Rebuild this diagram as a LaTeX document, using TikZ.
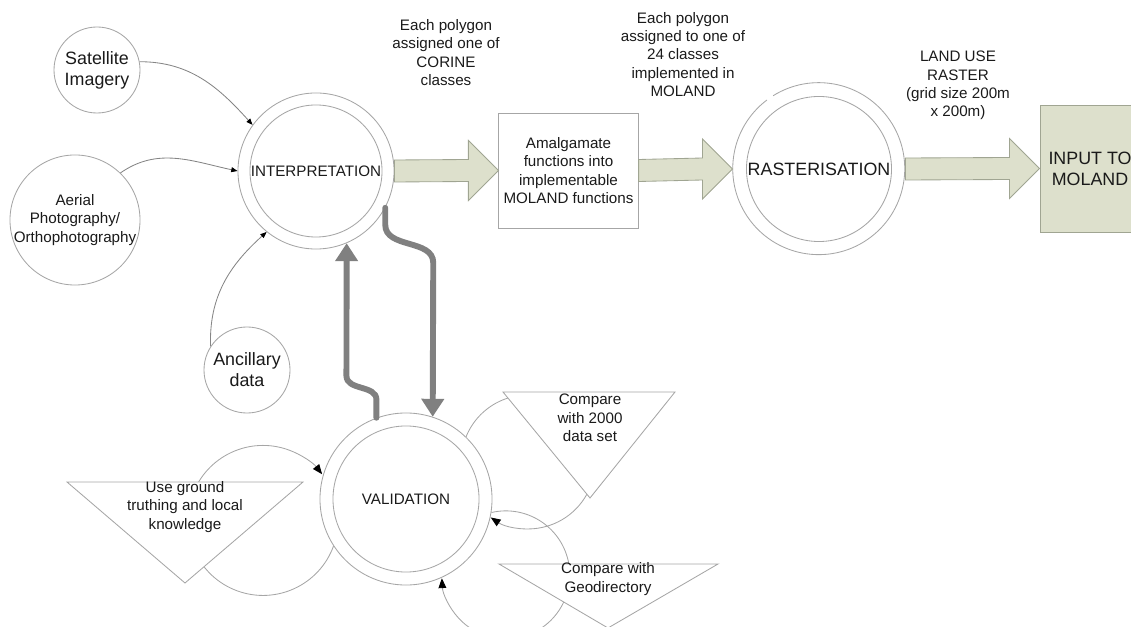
\documentclass[tikz,border=0pt]{standalone}
\usepackage{fontspec}
\setmainfont{Liberation Sans}
\usetikzlibrary{arrows.meta,calc,backgrounds}

\definecolor{ringgray}{HTML}{A6A6A6}
\definecolor{linegray}{HTML}{858585}
\definecolor{fbgray}{HTML}{808080}
\definecolor{landgreen}{HTML}{DDE0CC}
\definecolor{landedge}{HTML}{A0A592}
\definecolor{inkblack}{HTML}{1A1A1A}

% block arrow from the east side of #1 to the west side of #2
\newcommand{\bigarrow}[2]{%
  \draw[blockarrow] ($(#1.east)+(0,11)$) -- ($(#2.west)+(-30,11)$)
    -- ($(#2.west)+(-30,30)$) -- (#2.west) -- ($(#2.west)+(-30,-30)$)
    -- ($(#2.west)+(-30,-11)$) -- ($(#1.east)+(0,-11)$) -- cycle;}

\begin{document}
\begin{tikzpicture}[x=0.025cm, y=0.025cm,
  ring/.style={circle, draw=ringgray, line width=0.6pt, fill=white, inner sep=0pt},
  ringline/.style={draw=ringgray, line width=0.6pt},
  txt/.style={align=center, text=inkblack, font=\fontsize{10.8}{13}\selectfont},
  bigtxt/.style={align=center, text=inkblack, font=\fontsize{12.7}{14.9}\selectfont},
  tri/.style={draw=ringgray, fill=white, line width=0.6pt},
  feed/.style={draw=linegray, line width=0.6pt, -{Triangle[black, length=4.5pt, width=3.5pt]}},
  loopline/.style={draw=ringgray, line width=0.6pt, -{Triangle[black, length=7pt, width=5.5pt]}},
  pathway/.style={draw=fbgray, line width=4.2pt, line cap=round, -{Triangle[length=0.45cm, width=0.55cm]}},
  blockarrow/.style={draw=landedge, fill=landgreen, line width=0.6pt}]

  \useasboundingbox (0,0) rectangle (1131,626);

  % sources
  \node[ring, minimum size=2.15cm] (sat) at (97,556) {};
  \node[bigtxt] (satlabel) at (sat) {Satellite\\Imagery};
  \node[ring, minimum size=3.25cm] (aerial) at (75,406) {};
  \node[txt] (aeriallabel) at (aerial) {Aerial\\Photography/\\Orthophotography};
  \node[ring, minimum size=2.15cm] (ancil) at (247,256) {};
  \node[bigtxt] (ancillabel) at (ancil) {Ancillary\\data};

  % interpretation
  \node[ring, minimum size=3.9cm] (interpO) at (316,455) {};
  \node[ring, minimum size=3.3cm, txt] (interp) at (interpO) {\makebox[0pt]{INTERPRETATION}};

  \draw[feed] (sat.11) to[out=0, in=132] (interpO.144);
  \draw[feed] (aerial.46) to[out=35, in=168] (interpO.180);
  \draw[feed] (ancil.147) to[out=92, in=222] (interpO.231);

  % main chain
  \node[draw=ringgray, line width=0.6pt, minimum width=3.425cm, minimum height=2.875cm, txt]
    (amalg) at (568.5,455.5) {Amalgamate\\functions into\\implementable\\MOLAND functions};
  \node[ring, draw=none, minimum size=4.3cm] (rasterO) at (819,457) {};
  \draw[ringline] (rasterO.127) arc[start angle=127, end angle=482, radius=86];
  \node[ring, minimum size=3.625cm, bigtxt] (raster) at (rasterO) {\makebox[0pt]{RASTERISATION}};
  \node[draw=landedge, fill=landgreen, line width=0.6pt, minimum width=2.5cm, minimum height=3.175cm, bigtxt]
    (input) at (1090,457.5) {INPUT TO\\MOLAND};

  \bigarrow{interpO}{amalg}
  \bigarrow{amalg}{rasterO}
  \bigarrow{rasterO}{input}

  \node[txt] (corine) at (446,573.5) {Each polygon\\assigned one of\\CORINE\\classes};
  \node[txt] (classes) at (683,571.5) {Each polygon\\assigned to one of\\24 classes\\implemented in\\MOLAND};
  \node[txt] (grid) at (958,540.5) {LAND USE\\RASTER\\(grid size 200m\\x 200m)};

  % validation
  \node[ring, minimum size=4.3cm] (validO) at (406,127) {};
  \node[ring, minimum size=3.65cm, txt] (valid) at (validO) {VALIDATION};

  \draw[pathway] (validO.110) -- ++(0,18) to[out=90, in=-90] ++(-30,24) -- (interpO.-67);
  \draw[pathway] (interpO.-28) -- ++(0,-17) to[out=-90, in=90] ++(48,-38) -- (validO.72);

  \begin{scope}[on background layer]
    \draw[loopline] (validO.213) arc[start angle=-20, end angle=-322, radius=75];
    \draw[loopline] (validO.46) arc[start angle=158, end angle=-124, radius=67];
    \draw[loopline] (validO.-9) arc[start angle=103, end angle=-177, radius=64];
  \end{scope}

  \draw[tri] (67,144) -- (303,144) -- (185,43) -- cycle;
  \node[txt] (ground) at (185,119) {Use ground\\truthing and local\\knowledge};
  \draw[tri] (503,234) -- (675,234) -- (590,128) -- cycle;
  \node[txt] (dataset) at (590,208) {Compare\\with 2000\\data set};
  \draw[tri] (499,62) -- (718,62) -- (608,-2) -- cycle;
  \node[txt] (geodir) at (608,47) {Compare with\\Geodirectory};
\end{tikzpicture}
\end{document}
